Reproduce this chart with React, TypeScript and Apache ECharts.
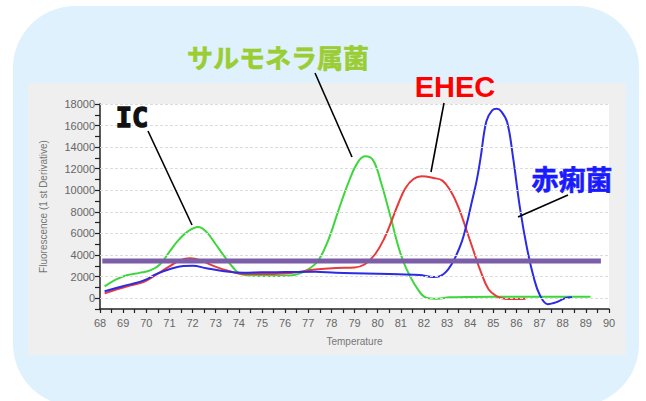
import React, { useEffect, useRef } from "react";
import * as echarts from "echarts";

// Temperature (°C) vs Fluorescence (1st derivative)
const greenCurve: [number, number][] = [
  [68.2, 1100], [68.7, 1750], [69.2, 2150], [69.7, 2350], [70.2, 2600], [70.6, 3150],
  [71.0, 4300], [71.4, 5400], [71.8, 6200], [72.25, 6600], [72.6, 6150], [73.0, 5000],
  [73.4, 3800], [73.75, 2850], [74.05, 2250], [74.5, 2100], [75.5, 2050], [76.4, 2150],
  [76.9, 2550], [77.4, 3400], [77.85, 5300], [78.3, 8100], [78.7, 10500], [79.1, 12450],
  [79.45, 13150], [79.8, 12800], [80.15, 10700], [80.6, 7200], [80.95, 4400], [81.25, 2700],
  [81.7, 950], [82.1, 50], [82.6, -50], [83.1, 80], [84.0, 120], [86.0, 140], [89.2, 140],
];
const redCurve: [number, number][] = [
  [68.2, 450], [68.7, 800], [69.3, 1180], [69.9, 1520], [70.45, 2200], [71.0, 2950],
  [71.45, 3500], [71.9, 3700], [72.3, 3550], [72.9, 3000], [73.6, 2500], [74.2, 2250],
  [75.0, 2250], [76.0, 2300], [76.5, 2400], [77.3, 2650], [78.2, 2800], [79.0, 2850],
  [79.45, 3150], [79.9, 4100], [80.3, 5600], [80.6, 7150], [80.9, 8800], [81.2, 10200],
  [81.55, 11050], [81.9, 11300], [82.4, 11150], [82.8, 10900], [83.15, 9950], [83.5, 8400],
  [83.85, 6250], [84.15, 4350], [84.45, 2500], [84.8, 800], [85.15, 180], [85.5, -50],
  [86.0, -80], [86.4, -40],
];
const blueCurve: [number, number][] = [
  [68.2, 650], [68.7, 950], [69.3, 1280], [69.9, 1650], [70.45, 2250], [71.0, 2680],
  [71.6, 2980], [72.0, 3000], [72.6, 2780], [73.3, 2520], [74.2, 2350], [75.0, 2400],
  [76.0, 2420], [77.3, 2450], [78.2, 2350], [79.5, 2300], [80.5, 2250], [81.8, 2150],
  [82.4, 1960], [82.7, 2050], [83.05, 2680], [83.35, 3760], [83.65, 5320], [83.85, 6870],
  [84.05, 8740], [84.28, 10900], [84.45, 13000], [84.7, 16400], [84.95, 17400], [85.15, 17550],
  [85.35, 17300], [85.6, 16300], [85.85, 13100], [86.15, 8400], [86.45, 4700], [86.75, 1900],
  [87.0, 350], [87.35, -550], [87.75, -350], [88.15, 30], [88.4, 90],
];
const thresholdValue = 3450;
const thresholdSpan = [68.1, 89.65];
const yGridValues = [0, 2000, 4000, 6000, 8000, 10000, 12000, 14000, 16000, 18000];

const labels = [
  { text: "IC", color: "#111111" },
  { text: "サルモネラ属菌", color: "#9acd32" },
  { text: "EHEC", color: "#ff0000" },
  { text: "赤痢菌", color: "#1a1aff" },
];

export default function App() {
  const ref = useRef<HTMLDivElement>(null);
  useEffect(() => {
    if (!ref.current) return;
    const chart = echarts.init(ref.current, null, { renderer: "svg" });
    const axisFont = { fontFamily: "Liberation Sans", fontSize: 11, color: "#666" };
    const lineEl = (x1: number, y1: number, x2: number, y2: number) => ({
      type: "line",
      z: 100,
      shape: { x1, y1, x2, y2 },
      style: { stroke: "#000", lineWidth: 1.6 },
    });
    const textEl = (i: number, x: number, y: number, font: string, size: number, strokeW = 0) => ({
      type: "text",
      z: 100,
      x,
      y,
      style: {
        text: labels[i].text,
        fill: labels[i].color,
        stroke: strokeW ? labels[i].color : undefined,
        lineWidth: strokeW,
        font: `bold ${size}px ${font}`,
        align: "center",
        verticalAlign: "middle",
      },
    });
    chart.setOption({
      animation: false,
      backgroundColor: "#ffffff",
      graphic: {
        elements: [
          { type: "rect", z: -20, shape: { x: 13, y: 6, width: 626, height: 400, r: 62 }, style: { fill: "#dff1fd" } },
          { type: "rect", z: -10, shape: { x: 28, y: 83, width: 598, height: 272 }, style: { fill: "#efefef" } },
          textEl(0, 132, 117, '"DejaVu Sans Mono"', 27, 1.4),
          textEl(1, 278, 56, '"Noto Sans CJK JP"', 26, 0.6),
          textEl(2, 455, 87, '"Liberation Sans"', 29),
          textEl(3, 572, 178, '"Noto Sans CJK JP"', 27, 0.6),
          lineEl(148, 131, 192, 225),
          lineEl(315, 73, 352, 157),
          lineEl(444, 103, 431, 172),
          lineEl(568, 195, 518, 217),
        ],
      },
      grid: {
        left: 100,
        right: 37,
        top: 104,
        bottom: 92,
        show: true,
        backgroundColor: "#ffffff",
        borderWidth: 0,
      },
      xAxis: {
        type: "value",
        min: 68,
        max: 90,
        interval: 1,
        name: "Temperature",
        nameLocation: "middle",
        nameGap: 27,
        nameTextStyle: { fontFamily: "Liberation Sans", fontSize: 10, color: "#777" },
        axisLine: { onZero: false, lineStyle: { color: "#222", width: 1.5 } },
        axisTick: { length: 4, lineStyle: { color: "#222", width: 1.2 } },
        minorTick: { show: true, splitNumber: 2, length: 4, lineStyle: { color: "#222", width: 1.2 } },
        axisLabel: { ...axisFont, margin: 8 },
        splitLine: { show: false },
      },
      yAxis: {
        type: "value",
        min: -1000,
        max: 18000,
        interval: 1000,
        name: "Fluorescence (1 st Derivative)",
        nameLocation: "middle",
        nameGap: 52,
        nameTextStyle: { fontFamily: "Liberation Sans", fontSize: 10, color: "#777" },
        axisLine: { show: true, lineStyle: { color: "#222", width: 1.5 } },
        axisTick: { show: true, length: 5, lineStyle: { color: "#222", width: 1.2 } },
        axisLabel: {
          ...axisFont,
          margin: 5,
          formatter: (v: number) => (v >= 0 && v % 2000 === 0 ? String(v) : ""),
        },
        splitLine: { show: false },
      },
      series: [
        {
          type: "line",
          data: [],
          silent: true,
          markLine: {
            silent: true,
            symbol: ["none", "none"],
            label: { show: false },
            lineStyle: { color: "#dcdcdc", width: 1, type: [3, 2] },
            data: yGridValues.map((v) => ({ yAxis: v })),
          },
        },
        {
          type: "line",
          data: greenCurve,
          smooth: 0.4,
          showSymbol: false,
          lineStyle: { color: "#3dd63d", width: 2 },
          itemStyle: { color: "#3dd63d" },
        },
        {
          type: "line",
          data: redCurve,
          smooth: 0.4,
          showSymbol: false,
          lineStyle: { color: "#e83a3a", width: 2 },
          itemStyle: { color: "#e83a3a" },
        },
        {
          type: "line",
          data: blueCurve,
          smooth: 0.4,
          showSymbol: false,
          lineStyle: { color: "#2b2be6", width: 2 },
          itemStyle: { color: "#2b2be6" },
        },
        {
          type: "line",
          data: thresholdSpan.map((x) => [x, thresholdValue]),
          showSymbol: false,
          z: 5,
          lineStyle: { color: "#7b5ea7", width: 5 },
          itemStyle: { color: "#7b5ea7" },
        },
      ],
    });
    return () => chart.dispose();
  }, []);
  return (
    <div
      ref={ref}
      style={{ position: "fixed", left: 0, top: 0, width: 646, height: 401 }}
    />
  );
}
